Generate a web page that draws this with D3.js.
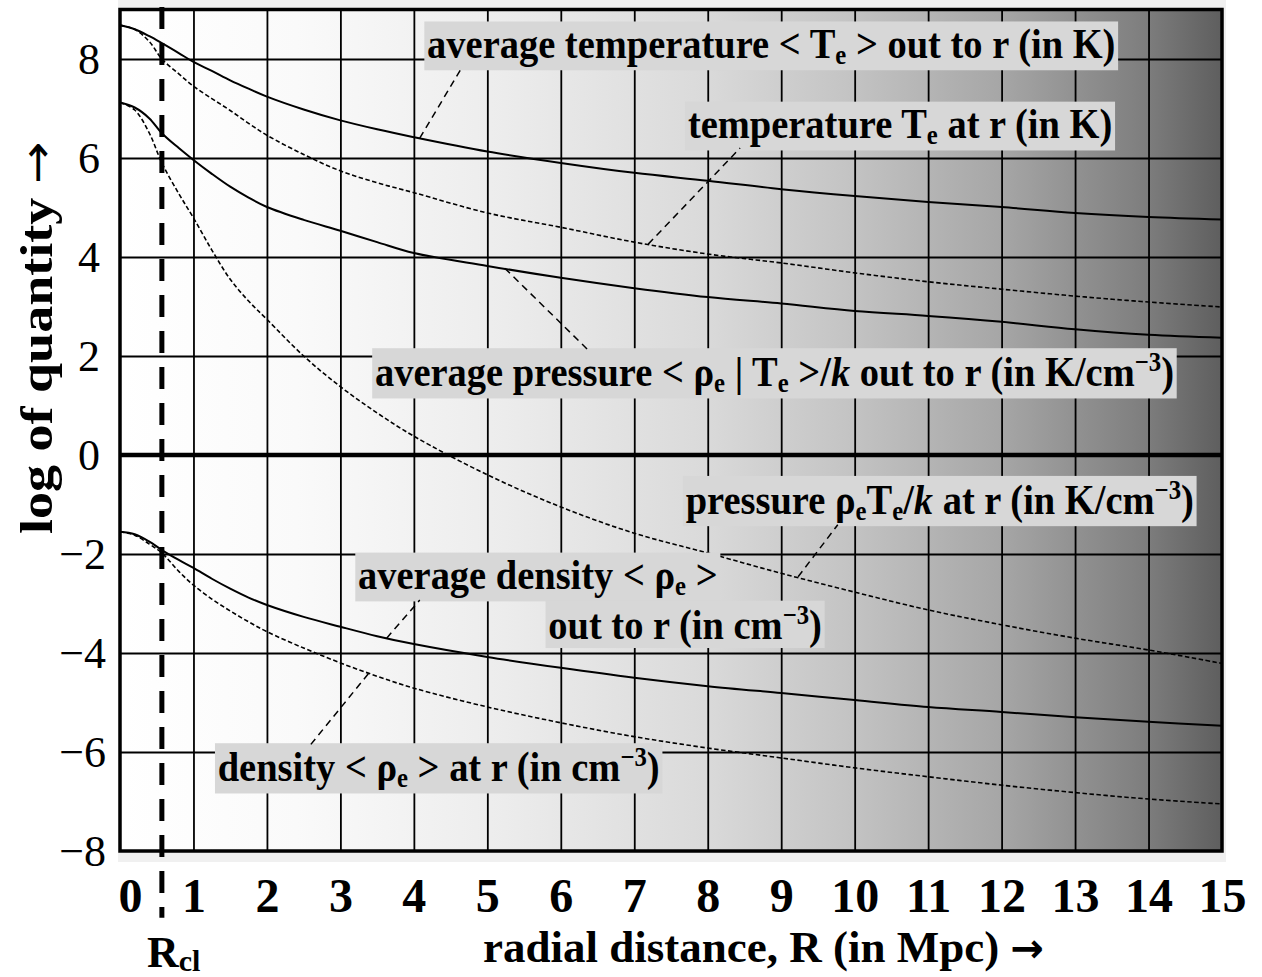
<!DOCTYPE html>
<html>
<head>
<meta charset="utf-8">
<script src="https://cdn.jsdelivr.net/npm/d3@7"></script>
<style>
body { margin: 0; background: #ffffff; }
text { font-family: "Liberation Serif", "Times New Roman", serif; }
</style>
</head>
<body>
<div id="viz-container"></div>
<script>
// radial distance R (Mpc) where the curves were read
let radius = [0, 0.2, 0.4, 0.57, 0.8, 1, 1.25, 1.5, 1.75, 2, 2.5, 3, 3.5, 4, 5, 6, 7, 8, 9, 10, 11, 12, 13, 14, 15];

// log of quantity, one array per curve
let avgTemperature = [8.68, 8.6, 8.46, 8.32, 8.12, 7.94, 7.76, 7.57, 7.4, 7.24, 6.98, 6.76, 6.58, 6.42, 6.13, 5.9, 5.7, 5.54, 5.37, 5.23, 5.11, 5.01, 4.89, 4.81, 4.76];
let temperatureAtR = [8.68, 8.6, 8.35, 8.0, 7.7, 7.45, 7.2, 6.96, 6.7, 6.46, 6.07, 5.74, 5.5, 5.3, 4.89, 4.6, 4.3, 4.06, 3.88, 3.68, 3.5, 3.35, 3.21, 3.09, 2.99];
let avgPressure = [7.12, 7.02, 6.8, 6.5, 6.2, 5.96, 5.68, 5.42, 5.2, 5.01, 4.75, 4.53, 4.3, 4.08, 3.82, 3.58, 3.37, 3.19, 3.06, 2.91, 2.81, 2.69, 2.54, 2.43, 2.37];
let pressureAtR = [7.12, 6.97, 6.5, 5.9, 5.28, 4.79, 4.14, 3.55, 3.11, 2.74, 2.0, 1.38, 0.85, 0.38, -0.4, -1.05, -1.58, -1.98, -2.39, -2.77, -3.13, -3.43, -3.7, -3.94, -4.21];
let avgDensity = [-1.55, -1.6, -1.75, -1.92, -2.12, -2.28, -2.5, -2.7, -2.88, -3.03, -3.27, -3.47, -3.66, -3.82, -4.08, -4.3, -4.5, -4.67, -4.81, -4.95, -5.09, -5.19, -5.3, -5.39, -5.47];
let densityAtR = [-1.55, -1.62, -1.8, -1.98, -2.35, -2.63, -2.91, -3.15, -3.37, -3.57, -3.9, -4.2, -4.47, -4.71, -5.09, -5.41, -5.69, -5.92, -6.12, -6.32, -6.5, -6.67, -6.82, -6.95, -7.05];

let xTicks = d3.range(0, 16);
let yTicks = [-8, -6, -4, -2, 0, 2, 4, 6, 8];
let rCluster = 0.57;

let curves = [
    {values: avgTemperature, dashed: false},
    {values: temperatureAtR, dashed: true},
    {values: avgPressure, dashed: false},
    {values: pressureAtR, dashed: true},
    {values: avgDensity, dashed: false},
    {values: densityAtR, dashed: true}
];

// label text pieces: [text, kind]
let labels = [
    {x: 4.18, y: 8.02, parts: [["average temperature < T"], ["e", "sub"], [" > out to r (in K)"]]},
    {x: 7.73, y: 6.40, parts: [["temperature T"], ["e", "sub"], [" at r (in K)"]]},
    {x: 3.47, y: 1.39, parts: [["average pressure < ρ"], ["e", "sub"], [" | T"], ["e", "sub"], [" >/"], ["k", "it"], [" out to r (in K/cm"], ["−3", "sup"], [")"]]},
    {x: 7.70, y: -1.19, parts: [["pressure ρ"], ["e", "sub"], ["T"], ["e", "sub"], ["/"], ["k", "it"], [" at r (in K/cm"], ["−3", "sup"], [")"]]},
    {x: 3.24, y: -2.71, parts: [["average density < ρ"], ["e", "sub"], [" >"]]},
    {x: 5.83, y: -3.71, parts: [["out to r (in cm"], ["−3", "sup"], [")"]]},
    {x: 1.33, y: -6.59, parts: [["density < ρ"], ["e", "sub"], [" > at r (in cm"], ["−3", "sup"], [")"]]}
];

// leader lines, curve point -> label box
let leaders = [
    [4.08, 6.40, 4.65, 7.82],
    [7.19, 4.26, 8.44, 6.20],
    [5.24, 3.77, 6.40, 2.08],
    [9.23, -2.46, 9.77, -1.41],
    [3.63, -3.70, 4.08, -2.93],
    [3.38, -4.42, 2.59, -5.86]
];

let viz = d3.select("#viz-container")
    .append("svg")
        .attr("width", 1262)
        .attr("height", 977)
        .style("display", "block")
        .style("background-color", "#ffffff");

let x = d3.scaleLinear().domain([0, 15]).range([120, 1222]);
let y = d3.scaleLinear().domain([-8, 9]).range([851, 9.5]);

// background shading
let grad = viz.append("defs").append("linearGradient")
    .attr("id", "bg")
    .attr("x1", "0%").attr("x2", "100%").attr("y1", "0%").attr("y2", "0%");
[[0, "#ffffff"], [0.16, "#fafafa"], [0.35, "#ececec"], [0.53, "#dadada"], [0.66, "#c4c4c4"],
 [0.8, "#a6a6a6"], [0.93, "#7e7e7e"], [1, "#5e5e5e"]].forEach(function(s){
    grad.append("stop").attr("offset", s[0]).attr("stop-color", s[1]);
});

viz.append("rect")
    .attr("x", x(0) - 2).attr("y", 0)
    .attr("width", x(15) - x(0) + 6).attr("height", y(-8) + 11)
    .attr("fill", "#f0f0f0");

viz.append("rect")
    .attr("x", x(0)).attr("y", y(9))
    .attr("width", x(15) - x(0)).attr("height", y(-8) - y(9))
    .attr("fill", "url(#bg)");

// grid
viz.append("g")
    .attr("transform", "translate(0," + y(-8) + ")")
    .call(d3.axisBottom(x).tickValues(d3.range(1, 15)).tickSize(-(y(-8) - y(9))).tickFormat(""));
viz.append("g")
    .attr("transform", "translate(" + x(0) + ",0)")
    .call(d3.axisLeft(y).tickValues(yTicks.filter(function(d){ return d != 0 && d != -8; }))
        .tickSize(-(x(15) - x(0))).tickFormat(""));
viz.selectAll(".domain").remove();
viz.selectAll(".tick line").attr("stroke", "#000").attr("stroke-width", 1.8);

viz.append("line")
    .attr("x1", x(0)).attr("x2", x(15))
    .attr("y1", y(0)).attr("y2", y(0))
    .attr("stroke", "#000").attr("stroke-width", 4.5);

// curves
let line = d3.line()
    .x(function(d){ return x(d[0]); })
    .y(function(d){ return y(d[1]); })
    .curve(d3.curveCatmullRom.alpha(0.5));

viz.selectAll("path.curve").data(curves).enter().append("path")
    .attr("class", "curve")
    .attr("d", function(c){ return line(radius.map(function(r, i){ return [r, c.values[i]]; })); })
    .attr("fill", "none")
    .attr("stroke", "#000")
    .attr("stroke-width", function(c){ return c.dashed ? 1.6 : 2; })
    .attr("stroke-dasharray", function(c){ return c.dashed ? "4.5,2.5" : null; });

// R_cl marker
viz.append("line")
    .attr("x1", x(rCluster)).attr("x2", x(rCluster))
    .attr("y1", y(9.05)).attr("y2", y(-9.35))
    .attr("stroke", "#000").attr("stroke-width", 5)
    .attr("stroke-dasharray", "22,14");

// labels with boxes (type is a touch condensed)
labels.forEach(function(l){
    let g = viz.append("g")
        .attr("transform", "translate(" + x(l.x) + "," + y(l.y) + ") scale(0.916,1)");
    let t = g.append("text")
        .attr("x", 0).attr("y", 0)
        .attr("font-size", 42).attr("font-weight", "bold").attr("fill", "#000");
    let cur = 0;
    l.parts.forEach(function(p){
        let target = p[1] == "sub" ? 6 : (p[1] == "sup" ? -15 : 0);
        let ts = t.append("tspan").text(p[0]).attr("dy", target - cur);
        cur = target;
        if (p[1] == "sub" || p[1] == "sup") ts.attr("font-size", 27);
        if (p[1] == "it") ts.attr("font-style", "italic");
    });
    let bb = t.node().getBBox();
    g.insert("rect", "text")
        .attr("x", bb.x - 3).attr("y", bb.y + 1)
        .attr("width", bb.width + 6).attr("height", bb.height - 1)
        .attr("fill", "#d7d7d7");
});

viz.selectAll("line.leader").data(leaders).enter().append("line")
    .attr("class", "leader")
    .attr("x1", function(d){ return x(d[0]); }).attr("y1", function(d){ return y(d[1]); })
    .attr("x2", function(d){ return x(d[2]); }).attr("y2", function(d){ return y(d[3]); })
    .attr("stroke", "#000").attr("stroke-width", 1.5)
    .attr("stroke-dasharray", "7,5");

// frame
viz.append("rect")
    .attr("x", x(0)).attr("y", y(9))
    .attr("width", x(15) - x(0)).attr("height", y(-8) - y(9))
    .attr("fill", "none").attr("stroke", "#000").attr("stroke-width", 3.5);

// axes labels
let xAxis = viz.append("g")
    .attr("transform", "translate(0," + y(-8) + ")")
    .call(d3.axisBottom(x).tickValues(xTicks).tickSize(0).tickFormat(d3.format("d")));
xAxis.select(".domain").remove();
xAxis.selectAll("text")
    .attr("y", 61).attr("dy", null)
    .attr("font-size", 48).attr("font-weight", "bold")
    .attr("font-family", "Liberation Serif, Times New Roman, serif")
    .attr("fill", "#000")
    .attr("dx", function(d){ return d == 0 ? 10 : 0; });

let yAxis = viz.append("g")
    .attr("transform", "translate(" + x(0) + ",0)")
    .call(d3.axisLeft(y).tickValues(yTicks).tickSize(0).tickFormat(d3.format("d")));
yAxis.select(".domain").remove();
yAxis.selectAll("text")
    .attr("x", function(d){ return d < 0 ? -14 : -20; })
    .attr("dy", "0.34em")
    .attr("font-size", 44)
    .attr("font-family", "Liberation Serif, Times New Roman, serif")
    .attr("fill", "#000");

let rcl = viz.append("text")
    .attr("x", x(rCluster) - 15).attr("y", 967)
    .attr("font-size", 44).attr("font-weight", "bold");
rcl.append("tspan").text("R");
rcl.append("tspan").text("cl").attr("font-size", 30).attr("dy", 4);

let xTitle = viz.append("text")
    .attr("x", 483).attr("y", 962)
    .attr("font-size", 45).attr("font-weight", "bold");
xTitle.append("tspan").text("radial distance, R (in Mpc) ");
xTitle.append("tspan").text("→")
    .attr("font-family", "DejaVu Sans").attr("font-size", 40);

let yTitle = viz.append("text")
    .attr("transform", "translate(52,534) rotate(-90) scale(1.15,1)")
    .attr("font-size", 47).attr("font-weight", "bold");
yTitle.append("tspan").text("log of quantity ");
yTitle.append("tspan").text("→")
    .attr("font-family", "DejaVu Sans").attr("font-weight", "normal").attr("font-size", 44);
</script>
</body>
</html>
